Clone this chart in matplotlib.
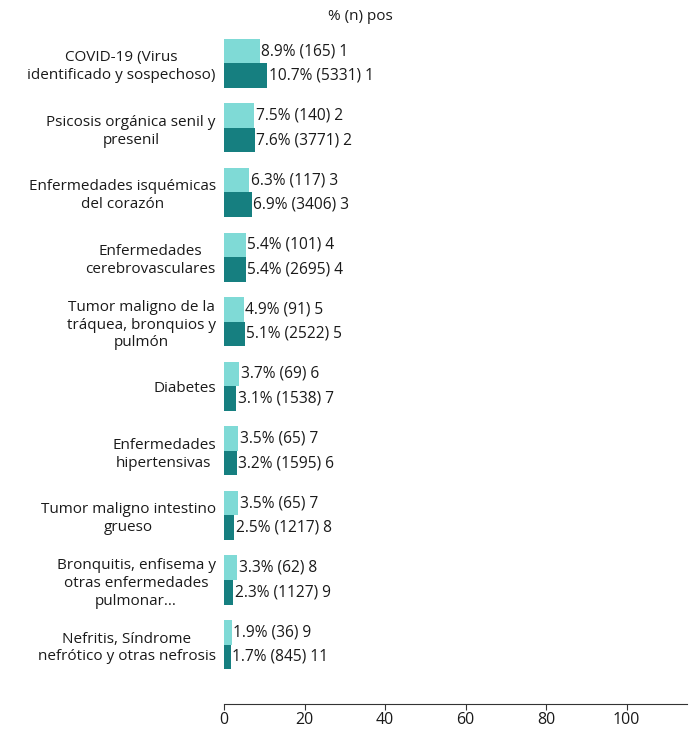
import matplotlib
matplotlib.use("Agg")
import matplotlib.pyplot as plt
import numpy as np

plt.rcParams['font.family'] = ['Open Sans', 'DejaVu Sans']

categories = ["COVID-19 (Virus\nidentificado y sospechoso)",
              "Psicosis orgánica senil y\npresenil",
              "Enfermedades isquémicas\ndel corazón",
              "Enfermedades\ncerebrovasculares",
              "Tumor maligno de la\ntráquea, bronquios y\npulmón",
              "Diabetes",
              "Enfermedades\nhipertensivas",
              "Tumor maligno intestino\ngrueso",
              "Bronquitis, enfisema y\notras enfermedades\npulmonar...",
              "Nefritis, Síndrome\nnefrótico y otras nefrosis"]
pct_a = [8.9, 7.5, 6.3, 5.4, 4.9, 3.7, 3.5, 3.5, 3.3, 1.9]
n_a = [165, 140, 117, 101, 91, 69, 65, 65, 62, 36]
pos_a = [1, 2, 3, 4, 5, 6, 7, 7, 8, 9]
pct_b = [10.7, 7.6, 6.9, 5.4, 5.1, 3.1, 3.2, 2.5, 2.3, 1.7]
n_b = [5331, 3771, 3406, 2695, 2522, 1538, 1595, 1217, 1127, 845]
pos_b = [1, 2, 3, 4, 5, 7, 6, 8, 9, 11]
xticks = [0, 20, 40, 60, 80, 100]

col_a = "#7fdad6"
col_b = "#167f80"

fig = plt.figure(figsize=(6.95, 7.3), dpi=100)
ax = fig.add_axes([224/695, 1-704/730, (687-224)/695, (704-31)/730])

y = np.arange(len(categories))
h = 0.38
ax.barh(y - h/2, pct_a, height=h, color=col_a)
ax.barh(y + h/2, pct_b, height=h, color=col_b)

for i in range(len(categories)):
    ax.text(pct_a[i] + 0.4, y[i] - h/2, f"{pct_a[i]:.1f}% ({n_a[i]}) {pos_a[i]}",
            va='center', ha='left', fontsize=11.2, color='#1a1a1a')
    ax.text(pct_b[i] + 0.4, y[i] + h/2, f"{pct_b[i]:.1f}% ({n_b[i]}) {pos_b[i]}",
            va='center', ha='left', fontsize=11.2, color='#1a1a1a')

ax.set_xlim(0, 115)
ax.set_ylim(len(categories) - 0.08, -0.5)
ax.set_yticks(y)
ax.set_yticklabels(categories, fontsize=11, color='#1a1a1a')
for lab in ax.get_yticklabels():
    lab.set_multialignment('center')
    lab.set_linespacing(1.25)
ax.tick_params(axis='y', length=0, pad=6)
ax.set_xticks(xticks)
ax.tick_params(axis='x', labelsize=11.5, length=4, color='#333333', labelcolor='#1a1a1a', pad=1.5)
for s in ['top', 'right', 'left']:
    ax.spines[s].set_visible(False)
ax.spines['bottom'].set_color('#333333')

fig.text(360/695, 1-16/730, "% (n) pos", ha='center', va='center', fontsize=11, color='#1a1a1a')

fig.savefig("out.png", dpi=100)
